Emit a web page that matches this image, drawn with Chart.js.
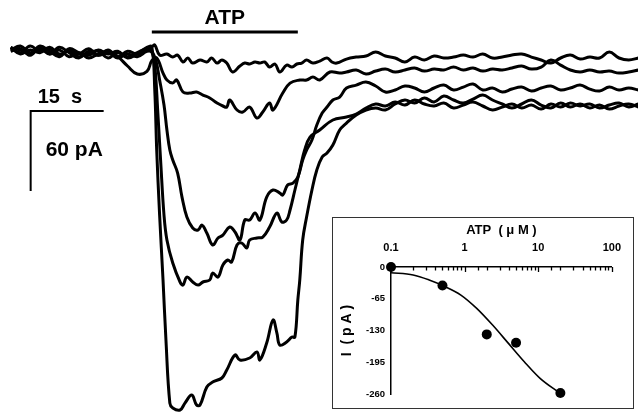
<!DOCTYPE html>
<html>
<head>
<meta charset="utf-8">
<script src="https://cdn.jsdelivr.net/npm/chart.js@4.4.0/dist/chart.umd.min.js"></script>
<style>
    body { margin: 0; background: #fff; }
    #wrap { position: relative; width: 638px; height: 414px; }
    #traces { position: absolute; left: 0; top: 0; }
    #inset { position: absolute; left: 332px; top: 217px; width: 302px; height: 192px;
             box-sizing: border-box; border: 1px solid #333; background: #fff; }
    #doseChart { display: block; }
</style>
</head>
<body>
<div id="wrap">
    <canvas id="traces" width="638" height="414"></canvas>
    <div id="inset"><canvas id="doseChart" width="300" height="190"></canvas></div>
</div>
<script>
// time in s (0 = start of ATP), current in pA
const baseT = [-29, -27, -25, -23, -21, -19, -17, -15, -13, -11, -9, -7, -5, -3, -1];
const tailT = [40, 42, 44, 46, 48, 50, 52, 54, 56, 58, 60, 62, 64, 66, 68, 70, 72, 74, 76, 78,
               80, 82, 84, 86, 88, 90, 92, 94, 96, 98, 100];

// trace 1 (smallest response)
const base1 = [2, -2, 3, -1, 1, -4, 0, -3, 1, -4, 0, -5, -1, -3, 0];
const act1T = [0, 0.6, 1.6, 3.1, 4.3, 5.3, 6.4, 7.4, 8.4, 9.9, 11.3, 12.3, 13.4, 14.4, 15.4, 16.6, 18.1, 19.1,
               20.1, 21.2, 22.2, 23.2, 24.2, 25.3, 26.3, 27.7, 28.8, 29.8, 30.8, 31.8, 33.1, 34.5, 36.0, 37.0, 38.0];
const act1I = [2.3, 3.8, -3.8, -3, -5.3, -3.8, -9, -6, -9.8, -7.5, -9, -6, -9.8, -7.5, -9.8, -16.5, -12, -9.8,
               -10.5, -9, -9.8, -9, -12.8, -10.5, -16.5, -11.3, -12.8, -10.5, -9.8, -7.5, -9.8, -8.3, -6, -9, -9.8];
const tail1 = [-6.8, -5.3, -4.5, -1.5, -4.5, -6, -9, -5.3, -7.5, -4.5, -6, -5.3, -3.8, -5.3, -3, -6, -5.3, -3.8,
               -3, -5.3, -7.5, -9.8, -6, -3.8, -6.8, -5.3, -6, -1.5, -6, -7.5, -6];

// trace 2
const base2 = [-1, 1, -4, 2, -3, 0, -5, -2, -6, -3, -1, -5, -12, -18, -16];
const act2T = [0, 1.0, 2.3, 3.1, 4.3, 5.1, 6.4, 7.8, 9.2, 10.5, 11.9, 13.4, 14.6, 15.4, 16.0, 17.5, 18.7, 20.1,
               21.6, 22.8, 24.2, 24.9, 26.9, 28.4, 30.4, 31.8, 33.1, 34.5, 36.6, 38.6];
const act2I = [-8, -6, -17.3, -22.5, -24.8, -22.5, -31.5, -32.3, -31.5, -33.8, -36, -39.8, -42, -42.8, -37.5, -45,
               -46.5, -42.8, -51, -46.5, -39.8, -45, -32.3, -24.8, -22.5, -22.5, -20.3, -22.5, -16.5, -17.3];
const tail2 = [-16.5, -15, -18, -15.8, -14.3, -16.5, -15, -13.5, -15.8, -14.3, -15, -12.8, -15, -13.5, -15.8, -14.3,
               -15, -13.5, -12, -14.3, -12.8, -7.5, -11.3, -15, -16.5, -15, -16.5, -15.8, -17.3, -16.5, -15];

// trace 3
const base3 = [0, 3, -2, 1, -3, 2, -2, -6, -1, -4, -2, -6, -3, -5, -1];
const act3T = [0, 0.8, 1.6, 2.5, 3.1, 3.7, 4.3, 5.3, 6.2, 7.2, 8.4, 9.5, 10.3, 11.3, 12.5, 13.6, 14.6, 16.0, 17.1,
               18.1, 19.1, 20.1, 21.2, 22.2, 23.6, 24.9, 26.3, 26.9, 27.9, 29.0, 30.0, 31.0, 31.8, 32.9, 33.9, 35.0,
               36.0, 37.2, 38.6];
const act3I = [-1.5, -7.5, -22.5, -41.3, -60, -75, -82.5, -92.3, -110.3, -125.3, -133.5, -135, -131.3, -137.3,
               -146.3, -141, -138.8, -132.8, -136.5, -142.5, -127.5, -127.5, -122.3, -127.5, -110.3, -105, -107.3,
               -108.8, -101.3, -99.8, -95.3, -82.5, -75, -67.5, -56.3, -47.3, -42.8, -37.5, -35.3];
const tail3 = [-28.5, -26.3, -24, -27, -31.5, -30, -27, -28.5, -31.5, -28.5, -26.3, -30, -27.8, -25.5, -30, -28.5,
               -31.5, -29.3, -27.8, -30.8, -28.5, -27, -30, -28.5, -26.3, -29.3, -30.8, -27.8, -30, -28.5, -30];

// trace 4
const base4 = [2, -3, 0, -2, 2, -3, -1, -5, -2, -1, -6, -2, -5, -2, 1];
const act4T = [0, 0.6, 1.2, 1.8, 2.5, 3.1, 4.3, 5.8, 6.4, 7.2, 8.4, 9.5, 10.5, 11.9, 12.5, 13.6, 14.6, 15.6, 16.4,
               17.5, 18.5, 19.5, 20.1, 21.6, 22.8, 24.2, 25.7, 26.7, 27.7, 28.4, 29.4, 30.4, 31.4, 32.5, 34.5, 37.2];
const act4I = [-1.5, -11.3, -45, -82.5, -123.8, -142.5, -159.8, -174, -176.3, -170.3, -174, -176.3, -174, -172.5,
               -167.3, -170.3, -161.3, -157.5, -159, -146.3, -144.8, -148.5, -142.5, -141, -140.3, -132.8, -122.3,
               -129, -127.5, -120, -105, -90, -75, -65.3, -60, -52.5];
const tail4 = [-50.3, -48, -43.5, -40.5, -42, -39, -41.3, -37.5, -40.5, -42, -39.8, -43.5, -41.3, -39, -42, -45,
               -42.8, -40.5, -43.5, -41.3, -44.3, -40.5, -42.8, -39.8, -42, -40.5, -43.5, -41.3, -39.8, -42.8, -40.5];

// trace 5 (largest response)
const base5 = [1, 0, -3, 3, -1, -5, 1, -2, -4, 0, -3, -1, -6, -3, 2];
const act5T = [0, 0.6, 1.0, 1.6, 2.3, 2.9, 3.7, 4.3, 5.8, 6.8, 8.2, 9.2, 9.9, 11.3, 12.5, 14.4, 15.4, 17.1, 18.1,
               20.1, 21.6, 22.2, 23.6, 24.9, 25.7, 26.3, 27.7, 28.8, 29.4, 30.0, 30.4, 31.0, 31.8, 32.9, 33.9, 35.0,
               36.0, 37.2, 38.6];
const act5I = [2.3, -30, -75, -123.8, -172.5, -217.5, -264.8, -268.5, -270, -264.8, -258.8, -266.3, -266.3, -252.8,
               -249, -246, -240, -228.8, -232.5, -231, -226.5, -232.5, -219.8, -202.5, -212.3, -221.3, -219, -215.3,
               -215.3, -187.5, -172.5, -142.5, -125.3, -105, -90, -80.3, -77.3, -71.3, -60];
const tail5 = [-54.8, -48.8, -45, -43.5, -45, -40.5, -37.5, -39.8, -36, -39, -34.5, -37.5, -39.8, -36.8, -33.8,
               -37.5, -40.5, -43.5, -40.5, -37.5, -41.3, -43.5, -39.8, -42.8, -40.5, -43.5, -41.3, -44.3, -42, -40.5,
               -42.8];

// ATP application and scale bar
const atpStart = 0, atpEnd = 30, atpLevel = 13.5;
const scaleSec = 15, scalePA = 60, scaleT0 = -24.9, scaleI0 = -45.75;

// dose-response inset
const doseConc = [0.1, 0.5, 2, 5, 20];
const doseCurrent = [0, -38, -138, -155, -258];
const fitConc = [0.1, 0.2, 0.33, 0.51, 0.89, 1.46, 2.4, 3.94, 6.47, 10.6, 20];
const fitCurrent = [-11.7, -16.4, -26.6, -38.3, -57.4, -84.7, -118.9, -156.4, -194, -228, -259];
const doseYTicks = [0, -65, -130, -195, -260];

const FONT = '"Liberation Sans", Arial, sans-serif';

function pts(t, v) {
    return t.map((x, k) => ({ x: x, y: v[k] }));
}

function trace(base, actT, actI, tail) {
    return {
        data: pts(baseT.concat(actT, tailT), base.concat(actI, tail)),
        borderColor: '#000',
        borderWidth: 3,
        pointRadius: 0,
        tension: 0.4,
        borderJoinStyle: 'round',
        fill: false
    };
}

// Labels for ATP bar and scale bar
const traceLabels = {
    id: 'traceLabels',
    afterDraw(chart) {
        const ctx = chart.ctx;
        const x = chart.scales.x, y = chart.scales.y;
        ctx.save();
        ctx.fillStyle = '#000';
        ctx.textBaseline = 'middle';

        ctx.font = 'bold 21px ' + FONT;
        ctx.textAlign = 'center';
        ctx.fillText('ATP', (x.getPixelForValue(atpStart) + x.getPixelForValue(atpEnd)) / 2,
                     y.getPixelForValue(atpLevel) - 14);

        ctx.textAlign = 'left';
        ctx.font = 'bold 20px ' + FONT;
        ctx.fillText(scaleSec + '  s', x.getPixelForValue(scaleT0) + 7, y.getPixelForValue(scaleI0) - 14);

        ctx.font = 'bold 21px ' + FONT;
        ctx.fillText(scalePA + ' pA', x.getPixelForValue(scaleT0) + 15,
                     y.getPixelForValue(scaleI0 - scalePA / 2) - 1);
        ctx.restore();
    }
};

const traceChart = new Chart(document.getElementById('traces'), {
    type: 'line',
    data: {
        datasets: [
            trace(base1, act1T, act1I, tail1),
            trace(base2, act2T, act2I, tail2),
            trace(base3, act3T, act3I, tail3),
            trace(base4, act4T, act4I, tail4),
            trace(base5, act5T, act5I, tail5),
            {
                data: pts([atpStart, atpEnd], [atpLevel, atpLevel]),
                borderColor: '#000', borderWidth: 3, pointRadius: 0, tension: 0
            },
            {
                data: pts([scaleT0 + scaleSec, scaleT0, scaleT0], [scaleI0, scaleI0, scaleI0 - scalePA]),
                borderColor: '#000', borderWidth: 2, pointRadius: 0, tension: 0,
                borderJoinStyle: 'miter'
            }
        ]
    },
    options: {
        responsive: false,
        animation: false,
        devicePixelRatio: 1,
        layout: { padding: 0 },
        plugins: { legend: { display: false }, tooltip: { enabled: false } },
        scales: {
            x: { type: 'linear', display: false, min: -31.2, max: 99.9 },
            y: { type: 'linear', display: false, min: -273, max: 37.5 }
        }
    },
    plugins: [traceLabels]
});

// inward tick marks on the log axis
const insetTicks = {
    id: 'insetTicks',
    afterDraw(chart) {
        const ctx = chart.ctx;
        const xs = chart.scales.x;
        const top = chart.chartArea.top;
        ctx.save();
        ctx.strokeStyle = '#000';
        ctx.lineWidth = 1.3;
        xs.ticks.forEach(t => {
            const lg = Math.log10(t.value);
            const major = Math.abs(lg - Math.round(lg)) < 1e-6;
            const px = Math.round(xs.getPixelForValue(t.value)) + 0.5;
            ctx.beginPath();
            ctx.moveTo(px, top);
            ctx.lineTo(px, top + (major ? 5 : 3.5));
            ctx.stroke();
        });
        ctx.restore();
    }
};

const doseChart = new Chart(document.getElementById('doseChart'), {
    type: 'line',
    data: {
        datasets: [
            {
                data: pts(fitConc, fitCurrent),
                borderColor: '#000', borderWidth: 1.6, pointRadius: 0,
                cubicInterpolationMode: 'monotone', clip: false
            },
            {
                data: pts(doseConc, doseCurrent),
                showLine: false, pointRadius: 5, pointBackgroundColor: '#000',
                pointBorderWidth: 0, clip: false
            }
        ]
    },
    options: {
        responsive: false,
        animation: false,
        devicePixelRatio: 1,
        layout: { padding: { left: 0, top: 0, right: 11, bottom: 14 } },
        plugins: { legend: { display: false }, tooltip: { enabled: false } },
        scales: {
            x: {
                type: 'logarithmic',
                position: 'top',
                min: 0.1,
                max: 100,
                afterFit: s => { s.height = 49; },
                grid: { display: false, drawTicks: false },
                border: { display: true, color: '#000', width: 1.5 },
                ticks: {
                    autoSkip: false,
                    maxRotation: 0,
                    padding: 12,
                    color: '#000',
                    font: { family: FONT, size: 11, weight: 'bold' },
                    callback: v => {
                        const lg = Math.log10(v);
                        return Math.abs(lg - Math.round(lg)) < 1e-6 ? String(v) : '';
                    }
                },
                title: {
                    display: true,
                    text: 'ATP  ( μ M )',
                    color: '#000',
                    padding: { top: 5, bottom: 0 },
                    font: { family: FONT, size: 13, weight: 'bold' }
                }
            },
            y: {
                min: -260,
                max: 0,
                afterFit: s => { s.width = 58; },
                afterBuildTicks: s => { s.ticks = doseYTicks.map(v => ({ value: v })); },
                grid: { display: false, drawTicks: false },
                border: { display: true, color: '#000', width: 1.5 },
                ticks: {
                    padding: 6,
                    color: '#000',
                    font: { family: FONT, size: 9.5, weight: 'bold' }
                },
                title: {
                    display: true,
                    text: 'I  ( p A )',
                    color: '#000',
                    padding: { top: 6, bottom: 0 },
                    font: { family: FONT, size: 14, weight: 'bold' }
                }
            }
        }
    },
    plugins: [insetTicks]
});
</script>
</body>
</html>
